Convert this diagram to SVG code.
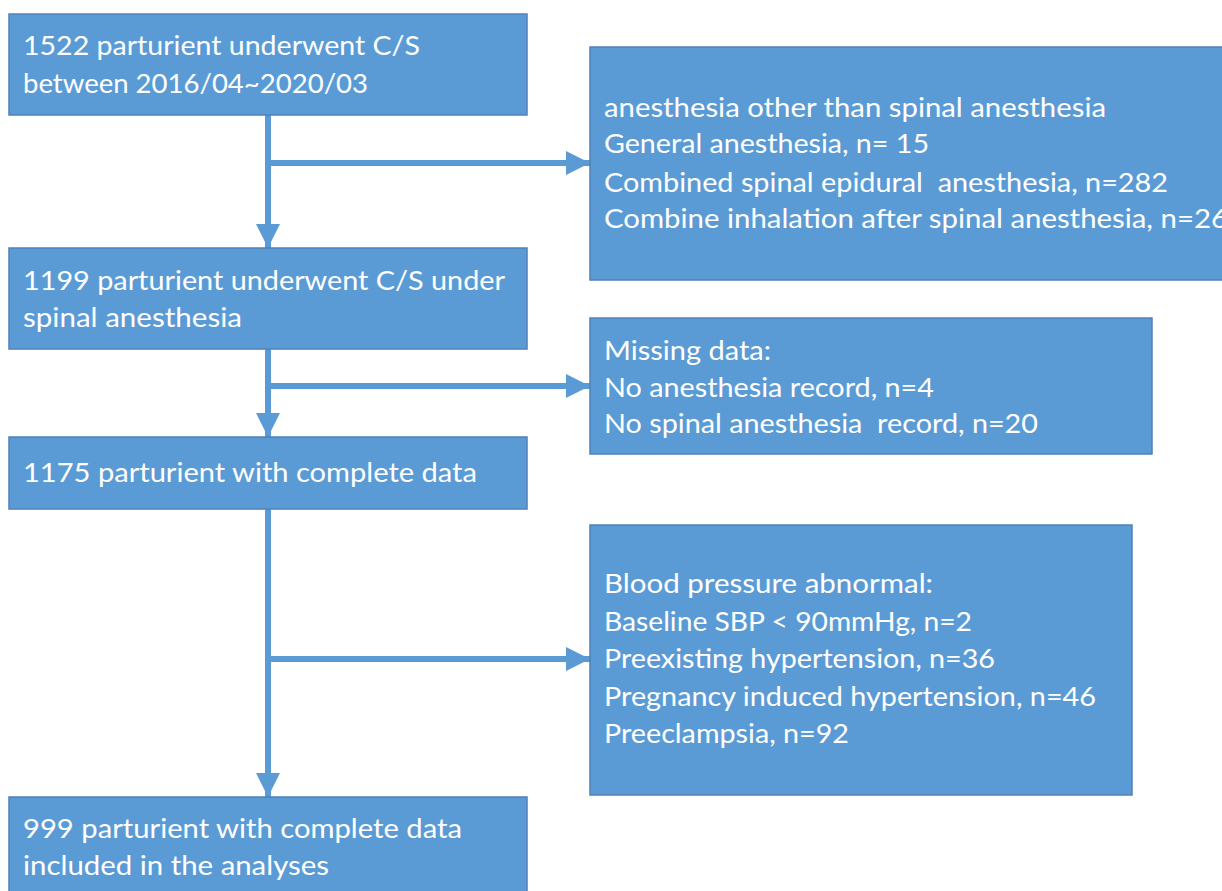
<svg xmlns="http://www.w3.org/2000/svg" width="1222" height="891" viewBox="0 0 1222 891">
<defs>
<style>
.box{fill:#5b9bd5;stroke:#4f81b8;stroke-width:1.5}
.t{font-family:Lato,"Open Sans","Liberation Sans",sans-serif;font-size:27.5px;fill:#ffffff}
.c{stroke:#5b9bd5;stroke-width:6;fill:none}
</style>
<marker id="ah" viewBox="0 0 24 24" markerWidth="24" markerHeight="24" markerUnits="userSpaceOnUse" refX="24" refY="12" orient="auto">
<path d="M0,0 L24,12 L0,24 z" fill="#5b9bd5"/>
</marker>
</defs>
<rect width="1222" height="891" fill="#ffffff"/>
<g id="connectors">
<line class="c" x1="268" y1="115" x2="268" y2="248" marker-end="url(#ah)"/>
<line class="c" x1="268" y1="163" x2="590" y2="163" marker-end="url(#ah)"/>
<line class="c" x1="268" y1="349" x2="268" y2="437" marker-end="url(#ah)"/>
<line class="c" x1="268" y1="386" x2="590" y2="386" marker-end="url(#ah)"/>
<line class="c" x1="268" y1="509" x2="268" y2="797" marker-end="url(#ah)"/>
<line class="c" x1="268" y1="659" x2="590" y2="659" marker-end="url(#ah)"/>
</g>
<g id="n1">
<rect class="box" x="9" y="14" width="518" height="101"/>
<text class="t" x="23" y="55" textLength="397" lengthAdjust="spacingAndGlyphs">1522 parturient underwent C/S</text>
<text class="t" x="23" y="93" textLength="345" lengthAdjust="spacingAndGlyphs">between 2016/04~2020/03</text>
</g>
<g id="n2">
<rect class="box" x="9" y="248" width="518" height="101"/>
<text class="t" x="23" y="290" textLength="482" lengthAdjust="spacingAndGlyphs">1199 parturient underwent C/S under</text>
<text class="t" x="23" y="327" textLength="219" lengthAdjust="spacingAndGlyphs">spinal anesthesia</text>
</g>
<g id="n3">
<rect class="box" x="9" y="437" width="518" height="72"/>
<text class="t" x="23" y="482" textLength="454" lengthAdjust="spacingAndGlyphs">1175 parturient with complete data</text>
</g>
<g id="n4">
<rect class="box" x="9" y="797" width="518" height="100"/>
<text class="t" x="23" y="838" textLength="439" lengthAdjust="spacingAndGlyphs">999 parturient with complete data</text>
<text class="t" x="23" y="875" textLength="306" lengthAdjust="spacingAndGlyphs">included in the analyses</text>
</g>
<g id="ex1">
<rect class="box" x="590" y="47" width="640" height="233"/>
<text class="t" x="604" y="117" textLength="502" lengthAdjust="spacingAndGlyphs">anesthesia other than spinal anesthesia</text>
<text class="t" x="604" y="153" textLength="325" lengthAdjust="spacingAndGlyphs">General anesthesia, n= 15</text>
<text class="t" x="604" y="192" textLength="564" lengthAdjust="spacingAndGlyphs" xml:space="preserve">Combined spinal epidural  anesthesia, n=282</text>
<text class="t" x="604" y="228" textLength="624" lengthAdjust="spacingAndGlyphs">Combine inhalation after spinal anesthesia, n=26</text>
</g>
<g id="ex2">
<rect class="box" x="590" y="318" width="562" height="136"/>
<text class="t" x="604" y="360" textLength="167" lengthAdjust="spacingAndGlyphs">Missing data:</text>
<text class="t" x="604" y="397" textLength="330" lengthAdjust="spacingAndGlyphs">No anesthesia record, n=4</text>
<text class="t" x="604" y="433" textLength="434" lengthAdjust="spacingAndGlyphs" xml:space="preserve">No spinal anesthesia  record, n=20</text>
</g>
<g id="ex3">
<rect class="box" x="590" y="525" width="542" height="270"/>
<text class="t" x="604" y="593" textLength="329" lengthAdjust="spacingAndGlyphs">Blood pressure abnormal:</text>
<text class="t" x="604" y="631" textLength="368" lengthAdjust="spacingAndGlyphs">Baseline SBP &lt; 90mmHg, n=2</text>
<text class="t" x="604" y="668" textLength="391" lengthAdjust="spacingAndGlyphs">Preexisting hypertension, n=36</text>
<text class="t" x="604" y="706" textLength="492" lengthAdjust="spacingAndGlyphs">Pregnancy induced hypertension, n=46</text>
<text class="t" x="604" y="743" textLength="245" lengthAdjust="spacingAndGlyphs">Preeclampsia, n=92</text>
</g>
</svg>
